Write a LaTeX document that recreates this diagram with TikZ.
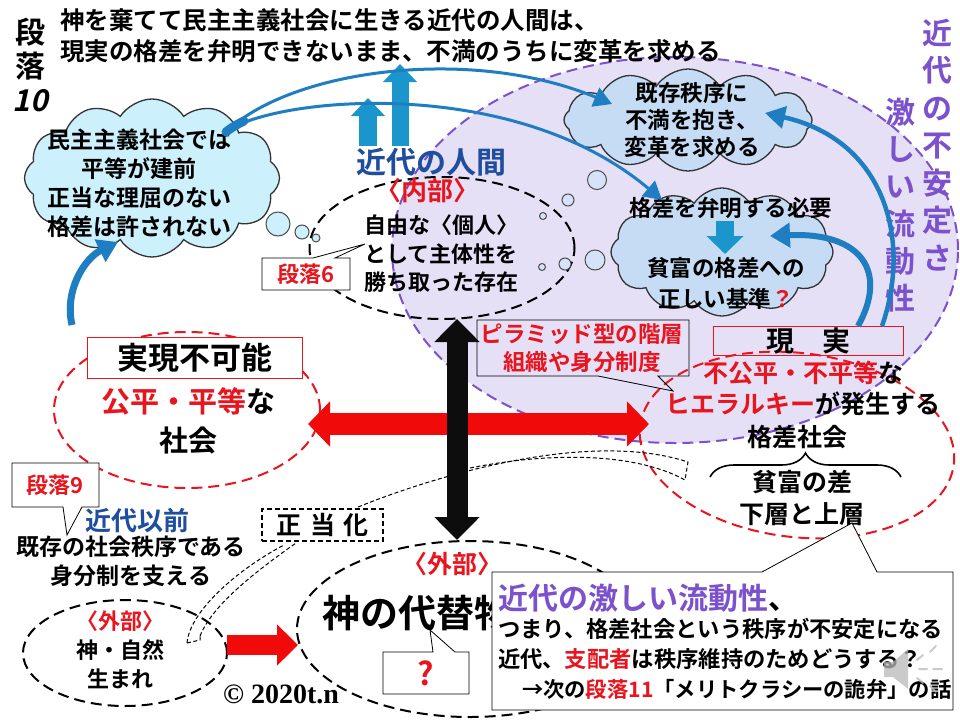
\documentclass[tikz,border=0pt]{standalone}
\usepackage{fontspec}
\setmainfont{Noto Sans CJK JP Bold}
\newfontfamily\heavyjp{Noto Sans CJK JP Bold}
\newfontfamily\slantjp{Noto Sans CJK JP Bold}[FakeSlant=0.22]
\newfontfamily\serifrm{Liberation Serif}
\usetikzlibrary{shapes.symbols,shapes.geometric,arrows.meta,decorations.pathreplacing}
\definecolor{jred}{HTML}{E8141E}
\definecolor{arred}{HTML}{F00A0A}
\definecolor{jblue}{HTML}{1F4E9F}
\definecolor{jpurple}{HTML}{7B52CC}
\definecolor{lav}{HTML}{E6E0F7}
\definecolor{cloudA}{HTML}{CCF0FC}
\definecolor{cloudB}{HTML}{C5DCF4}
\definecolor{bubfill}{HTML}{D6E2F7}
\definecolor{tealc}{HTML}{1A96CC}
\definecolor{curveblue}{HTML}{1F7EC2}
\newcommand{\fz}[2]{\fontsize{#1}{#2}\selectfont}
\begin{document}
\begin{tikzpicture}[x=1pt,y=-1pt,
  every node/.style={inner sep=0pt,outer sep=0pt},
  dashell/.style={ellipse,draw=#1,line width=2pt,dash pattern=on 11pt off 6pt},
  cloudbox/.style={cloud,cloud puffs=12,cloud puff arc=115,cloud ignores aspect,draw=black!80,line width=1.3pt},
  bubble/.style={circle,draw=black!70,line width=1pt},
  callout/.style={draw=black,line width=0.8pt,fill=white},
  bluecurve/.style={draw=curveblue,-{Triangle[length=18pt,width=20pt]}},
  thindash/.style={draw=black,line width=1pt,dash pattern=on 4pt off 2.5pt},
  blockup/.style={draw=tealc,line width=18pt,-{Triangle[length=18pt,width=33pt]}}
]
\useasboundingbox (0,0) rectangle (960,720);
\fill[white] (0,0) rectangle (960,720);

% large lavender region
\node[dashell=jpurple, fill=lav, minimum width=566pt, minimum height=386pt] (flux) at (675,250) {};

% ellipses
\node[dashell=jred, minimum width=266pt, minimum height=156pt] (lsoc) at (187,410) {};
\node[dashell=jred, minimum width=316pt, minimum height=184pt, rotate=-7] (rsoc) at (797,445) {};
\node[dashell=black, minimum width=265pt, minimum height=142pt] (inner) at (442,248) {};
\node[dashell=black, minimum width=346pt, minimum height=176pt] (outer) at (470,629) {};
\node[dashell=black, minimum width=204pt, minimum height=106pt] (pre) at (125,653) {};

% clouds
\node[cloudbox, fill=cloudA, minimum width=255pt, minimum height=158pt] (cA) at (152,178) {};
\node[cloudbox, fill=cloudB, minimum width=248pt, minimum height=102pt] (cB) at (688,120) {};
\node[cloudbox, fill=cloudB, minimum width=222pt, minimum height=128pt] (cC) at (722,252) {};

% thought bubbles
\node[bubble, fill=cloudA, minimum size=24pt] (ba1) at (278,224) {};
\node[bubble, fill=cloudA, minimum size=14pt] (ba2) at (302,232) {};
\node[bubble, fill=cloudA, minimum size=8pt] (ba3) at (316,238) {};
\node[bubble, fill=bubfill, minimum size=19pt] (bb1) at (597,180) {};
\node[bubble, fill=bubfill, minimum size=12pt] (bb2) at (568,200) {};
\node[bubble, fill=bubfill, minimum size=7pt] (bb3) at (543,216) {};
\node[bubble, fill=bubfill, minimum size=20pt] (bc1) at (595,260) {};
\node[bubble, fill=bubfill, minimum size=12pt] (bc2) at (565,264) {};
\node[bubble, fill=bubfill, minimum size=7pt] (bc3) at (542,267) {};

% title
\node[font=\fz{24.5}{30}, anchor=west] (t1) at (60,20) {神を棄てて民主主義社会に生きる近代の人間は、};
\node[font=\fz{24.5}{30}, anchor=west] (t2) at (60,51) {現実の格差を弁明できないまま、不満のうちに変革を求める};
\node[font=\heavyjp\fz{30}{34}, align=center] (para) at (30,65) {段\\落\\{\slantjp 10}};

% purple vertical text
\node[font=\fz{30}{37.5}, text=jpurple, align=center] (vt1) at (937,145) {近\\代\\の\\不\\安\\定\\さ};
\node[font=\fz{30}{37.2}, text=jpurple, align=center] (vt2) at (900,205) {激\\し\\い\\流\\動\\性};

% cloud texts
\node[font=\fz{23}{29}, align=center] (cAt) at (139,183) {民主主義社会では\\平等が建前\\正当な理屈のない\\格差は許されない};
\node[font=\fz{22.5}{27}, align=center] (cBt) at (692,120) {既存秩序に\\不満を抱き、\\変革を求める};
\node[font=\fz{22.5}{27}] (cCt1) at (731,208) {格差を弁明する必要};
\node[font=\fz{22.5}{31}, align=center] (cCt2) at (726,283) {貧富の格差への\\正しい基準{\color{jred}？}};
\coordinate (dn1) at (725,221);
\coordinate (dn2) at (725,254);
\draw[draw=tealc, line width=18pt, -{Triangle[length=18pt,width=36pt]}] (dn1) -- (dn2);

% blue up block arrows
\coordinate (ua1) at (368,146); \coordinate (ua2) at (368,98);
\coordinate (ub1) at (400,146); \coordinate (ub2) at (400,64);
\draw[blockup] (ua1) -- (ua2);
\draw[blockup, line width=17pt] (ub1) -- (ub2);

% inner ellipse text
\node[font=\fz{30}{34}, text=jblue] (modern) at (431,162) {近代の人間};
\node[font=\fz{26}{30}, text=jred] (naibu) at (427,191) {〈内部〉};
\node[font=\fz{22}{28.5}, align=center] (innert) at (441,254) {自由な〈個人〉\\として主体性を\\勝ち取った存在};

% 段落6 callout
\draw[callout] (262,258) -- (313,258) -- (365,244) -- (335,258) -- (350,258) -- (350,290) -- (262,290) -- cycle;
\node[font=\fz{22}{26}, text=jred] (p6) at (306,274) {段落6};

% blue curved arrows
\coordinate (a0) at (226,132);
\coordinate (a1) at (236,126);
\draw[bluecurve, line width=3pt] (a0) .. controls (290,70) and (470,45) .. (612,104);
\draw[bluecurve, line width=3pt] (a1) .. controls (300,95) and (520,80) .. (662,200);
\draw[draw=curveblue, line width=9pt, line cap=round] (a0) .. controls (232,127) and (238,124) .. (244,121);
\coordinate (b0) at (72,325);
\coordinate (b1) at (118,242);
\draw[draw=curveblue, line width=7pt, -{Triangle[length=20pt,width=24pt]}] (b0) .. controls (64,290) and (85,258) .. (b1);

% left society
\node[font=\fz{29}{39}, align=center] (lst) at (188,421) {{\color{jred}公平・平等}な\\社会};
\node[draw=jred, line width=1pt, fill=white, minimum width=215pt, minimum height=41pt, font=\fz{31}{34}] (imp) at (194.5,357.5) {実現不可能};

% right society
\node[draw=jred, line width=1pt, minimum width=190pt, minimum height=29pt, font=\fz{28}{30}] (real) at (808,340.5) {現\hspace{1em}実};
\node[font=\fz{25}{31}, align=center] (rst1) at (803,388) {{\color{jred}不公平・不平等}な\\{\color{jred}ヒエラルキー}が発生する};
\node[font=\fz{25}{30}] (rst2) at (797,437) {格差社会};
\draw[line width=1.6pt, decorate, decoration={brace, amplitude=24pt}] (710,477) -- (901,477);
\node[font=\fz{25}{32}, align=center] (rst3) at (802,498) {貧富の差\\下層と上層};

% right side curved arrows
\coordinate (c0) at (882,326); \coordinate (c1) at (765,113);
\coordinate (d0) at (858,326); \coordinate (d1) at (770,236);
\draw[draw=curveblue, line width=4.5pt, -{Triangle[length=20pt,width=22pt]}] (c0) .. controls (912,240) and (885,140) .. (c1);
\draw[draw=curveblue, line width=6pt, -{Triangle[length=20pt,width=24pt]}] (d0) .. controls (888,272) and (862,232) .. (d1);

% pyramid callout
\draw[draw=black, line width=0.8pt] (477,320) -- (689,320) -- (689,376) -- (658,376) -- (673,391) -- (598,376) -- (477,376) -- cycle;
\node[font=\fz{22.5}{28}, text=jred, align=center] (pyr) at (582,348) {ピラミッド型の階層\\組織や身分制度};

% 段落9 callout and pre-modern text
\draw[callout] (12,463) -- (99,463) -- (99,507) -- (82,507) -- (67,535) -- (63,507) -- (12,507) -- cycle;
\node[font=\fz{22}{26}, text=jred] (p9) at (55,485) {段落9};
\node[font=\fz{26}{30}, text=jblue] (prem) at (137,521) {近代以前};
\node[font=\fz{23}{29}, align=center] (premt) at (131,561.5) {既存の社会秩序である\\身分制を支える};

% small outside ellipse text
\node[font=\fz{22}{29}, align=center] (pret) at (120,650) {{\color{jred}〈外部〉}\\神・自然\\生まれ};

% dashed band (legitimation)
\draw[thindash] (187,643) .. controls (190,610) and (240,568) .. (284,545);
\draw[thindash] (200,636) .. controls (212,606) and (252,574) .. (296,543);
\draw[thindash] (187,643) -- (200,640) -- (200,636);
\draw[thindash] (358,507) .. controls (440,474) and (590,430) .. (688,462) -- (685,480);
\draw[thindash] (470,468) .. controls (560,450) and (640,455) .. (685,480);

% justification box
\node[draw=black, line width=1.3pt, dash pattern=on 5pt off 3pt, fill=white, minimum width=121pt, minimum height=32pt, font=\fz{25}{28}] (jus) at (322.5,525) {正\hspace{0.35em}当\hspace{0.35em}化};

% red double arrow
\coordinate (ra) at (308,424); \coordinate (rb) at (649,424);
\draw[draw=arred, line width=22pt, {Triangle[length=22pt,width=44pt]}-{Triangle[length=22pt,width=44pt]}] (ra) -- (rb);

% black double arrow
\coordinate (bx) at (457,0);
\draw[draw=black!95, line width=21pt, {Triangle[length=23pt,width=44pt]}-{Triangle[length=23pt,width=44pt]}] (inner.south -| bx) -- ([yshift=1pt]outer.north -| bx);

% small red arrow
\coordinate (sa) at (227,645); \coordinate (sb) at (298,645);
\draw[draw=arred, line width=20pt, -{Triangle[length=21pt,width=40pt]}] (sa) -- (sb);

% outer ellipse text
\node[font=\fz{25}{28}, text=jred] (gaibu) at (452,564) {〈外部〉};
\node[font=\fz{38}{42}, anchor=west] (subst) at (322,613) {神の代替物};

% ? callout
\draw[callout] (383,652) -- (433,652) -- (430,630) -- (455,652) -- (469,652) -- (469,694) -- (383,694) -- cycle;
\node[font=\fz{32}{34}, text=jred] (qm) at (426,673) {?};

% copyright
\node[font=\serifrm\bfseries\fz{28}{30}] (copy) at (281,694) {© 2020t.n};

% main text box
\draw[callout] (492,572) -- (762,572) -- (852,523) -- (877,572) -- (953,572) -- (953,710) -- (492,710) -- cycle;
\node[anchor=west, font=\fz{30}{32}] (m1) at (498,598) {{\color{jpurple}近代の激しい流動性}、};
\node[anchor=west, font=\fz{22.3}{26}] (m2) at (498,629) {つまり、格差社会という秩序が不安定になる};
\node[anchor=west, font=\fz{22.3}{26}] (m3) at (498,659) {近代、{\color{jred}支配者}は秩序維持のためどうする？};
\node[anchor=west, font=\fz{21.3}{26}] (m4) at (522,689) {→次の{\color{jred}段落11}「メリトクラシーの詭弁」の話};

% speaker icon
\fill[gray!55, opacity=0.75] (884,662) -- (893,662) -- (908,649) -- (908,689) -- (893,677) -- (884,677) -- cycle;
\draw[gray!55, opacity=0.75, line width=2pt, line cap=round] (917,660) -- (923,655) (919,669) -- (927,669) (917,678) -- (923,683);
\draw[gray!55, opacity=0.75, line width=2pt, line cap=round] (930,652) -- (936,646) (933,669) -- (942,669) (930,686) -- (936,692);
\end{tikzpicture}
\end{document}
